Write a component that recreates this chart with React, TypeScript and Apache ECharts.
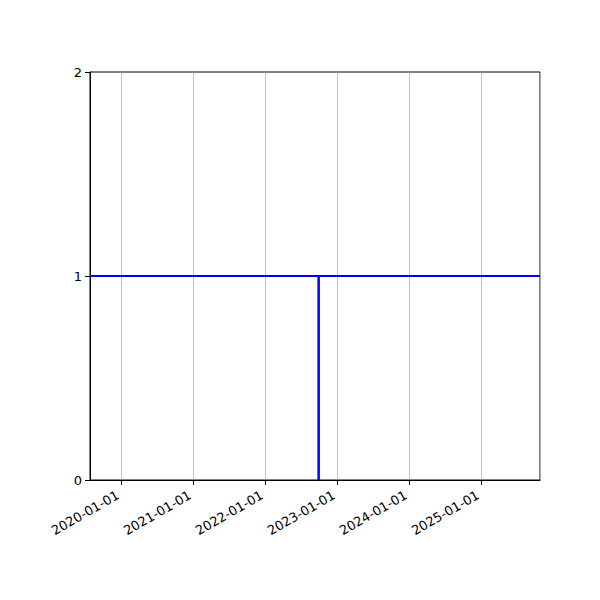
import React, { useEffect, useRef } from 'react';
import * as echarts from 'echarts';

// x range
const xRange = ['2019-07-26', '2025-10-25'];
// horizontal line (y = 1 across the whole span)
const levelDates = ['2019-07-26', '2025-10-25'];
const levelValues = [1, 1];
// vertical drop
const dropDates = ['2022-09-28', '2022-09-28'];
const dropValues = [0, 1];
const yTicks = [0, 1, 2];

const YEAR = 365 * 24 * 3600 * 1000;

export default function App() {
  const ref = useRef<HTMLDivElement>(null);

  useEffect(() => {
    if (!ref.current) return;
    const chart = echarts.init(ref.current, null, { renderer: 'svg' });

    const option: any = {
      animation: false,
      textStyle: { fontFamily: 'DejaVu Sans' },
      grid: {
        left: 90,
        right: 60,
        top: 72,
        bottom: 120,
        show: true,
        borderColor: '#000',
        borderWidth: 1,
        backgroundColor: 'transparent'
      },
      xAxis: {
        type: 'time',
        min: xRange[0],
        max: xRange[1],
        minInterval: YEAR,
        maxInterval: YEAR,
        axisLine: { show: true, lineStyle: { color: '#000', width: 1 } },
        axisTick: { show: true, length: 5, lineStyle: { color: '#000' } },
        axisLabel: {
          rotate: 30,
          color: '#000',
          fontSize: 13,
          margin: 12,
          padding: [0, 4, 0, 0],
          showMinLabel: false,
          showMaxLabel: false,
          formatter: '{yyyy}-{MM}-{dd}'
        },
        splitLine: { show: true, lineStyle: { color: '#b0b0b0', width: 0.8 } }
      },
      yAxis: {
        type: 'value',
        min: yTicks[0],
        max: yTicks[yTicks.length - 1],
        interval: 1,
        axisLine: { show: true, lineStyle: { color: '#000', width: 1 } },
        axisTick: { show: true, length: 5, lineStyle: { color: '#000' } },
        axisLabel: { color: '#000', fontSize: 13, margin: 8 },
        splitLine: { show: false }
      },
      series: [
        {
          type: 'line',
          data: levelDates.map((d, i) => [d, levelValues[i]]),
          showSymbol: false,
          lineStyle: { color: '#0000ff', width: 2 },
          z: 3
        },
        {
          type: 'line',
          data: dropDates.map((d, i) => [d, dropValues[i]]),
          showSymbol: false,
          lineStyle: { color: '#0000ff', width: 2.5 },
          z: 3
        }
      ]
    };

    chart.setOption(option);
    return () => chart.dispose();
  }, []);

  return (
    <div
      ref={ref}
      style={{ position: 'absolute', left: 0, top: 0, width: 600, height: 600, background: '#fff' }}
    />
  );
}
